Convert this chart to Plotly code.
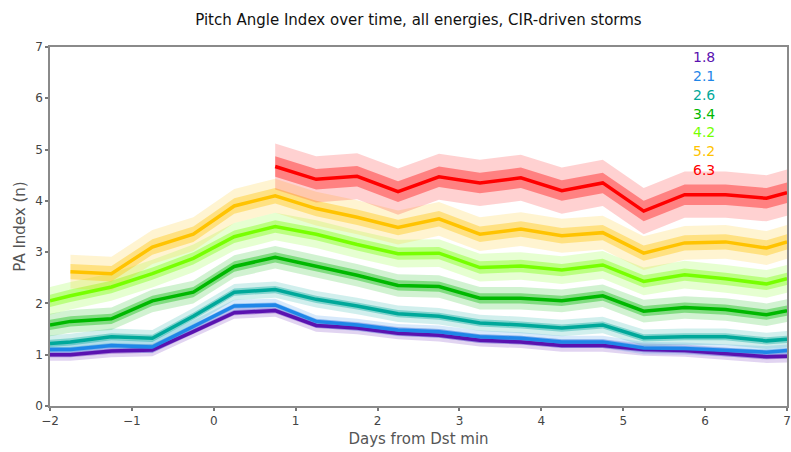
import plotly.graph_objects as go

days = [-2, -1.75, -1.25, -0.75, -0.25, 0.25, 0.75, 1.25, 1.75, 2.25, 2.75,
        3.25, 3.75, 4.25, 4.75, 5.25, 5.75, 6.25, 6.75, 7]

energies = ["1.8", "2.1", "2.6", "3.4", "4.2", "5.2", "6.3"]

pa_18 = [1.00, 1.00, 1.07, 1.09, 1.45, 1.82, 1.86, 1.57, 1.52, 1.42, 1.38,
         1.28, 1.25, 1.18, 1.18, 1.10, 1.08, 1.02, 0.96, 0.97]
pa_21 = [1.10, 1.10, 1.18, 1.15, 1.55, 1.95, 1.97, 1.65, 1.58, 1.48, 1.45,
         1.35, 1.32, 1.25, 1.25, 1.13, 1.12, 1.08, 1.05, 1.08]
pa_26 = [1.22, 1.25, 1.35, 1.32, 1.75, 2.22, 2.27, 2.08, 1.95, 1.80, 1.75,
         1.62, 1.58, 1.52, 1.58, 1.33, 1.35, 1.35, 1.27, 1.30]
pa_34 = [1.58, 1.65, 1.70, 2.05, 2.22, 2.72, 2.90, 2.72, 2.55, 2.35, 2.33,
         2.10, 2.10, 2.05, 2.15, 1.85, 1.92, 1.88, 1.78, 1.86]
pa_42 = [2.05, 2.15, 2.32, 2.58, 2.88, 3.30, 3.50, 3.35, 3.15, 2.97, 2.98,
         2.70, 2.73, 2.65, 2.75, 2.43, 2.56, 2.48, 2.38, 2.48]
pa_52 = [None, 2.62, 2.58, 3.10, 3.35, 3.90, 4.10, 3.85, 3.68, 3.48, 3.65,
         3.35, 3.45, 3.32, 3.38, 2.98, 3.18, 3.20, 3.08, 3.20]
pa_63 = [None, None, None, None, None, None, 4.67, 4.42, 4.48, 4.18, 4.47,
         4.35, 4.45, 4.20, 4.35, 3.80, 4.12, 4.12, 4.05, 4.16]

# half-widths of inner and outer uncertainty bands per energy
band_inner = [0.05, 0.05, 0.07, 0.10, 0.12, 0.15, 0.20]
band_outer = [0.12, 0.12, 0.16, 0.22, 0.27, 0.33, 0.45]

series = [pa_18, pa_21, pa_26, pa_34, pa_42, pa_52, pa_63]
colors = ["#5a12b0", "#1f86e8", "#00a89a", "#00b800", "#77ff00", "#ffc300", "#ff0000"]


def rgba(hexc, a):
    h = hexc.lstrip("#")
    r, g, b = int(h[0:2], 16), int(h[2:4], 16), int(h[4:6], 16)
    return f"rgba({r},{g},{b},{a})"


fig = go.Figure()

for vals, col, wi, wo in zip(series, colors, band_inner, band_outer):
    xs = [d for d, v in zip(days, vals) if v is not None]
    ys = [v for v in vals if v is not None]
    for w, a in ((wo, 0.18), (wi, 0.38)):
        up = [y + w for y in ys]
        lo = [y - w for y in ys]
        fig.add_trace(go.Scatter(
            x=xs + xs[::-1], y=up + lo[::-1], fill="toself",
            fillcolor=rgba(col, a), line=dict(width=0), mode="lines",
            hoverinfo="skip", showlegend=False))

for vals, col in zip(series, colors):
    xs = [d for d, v in zip(days, vals) if v is not None]
    ys = [v for v in vals if v is not None]
    fig.add_trace(go.Scatter(x=xs, y=ys, mode="lines",
                             line=dict(color=col, width=3.5),
                             showlegend=False))

for i, (lab, col) in enumerate(zip(energies, colors)):
    fig.add_annotation(x=0.887, y=0.972 - i * 0.0525, xref="paper", yref="paper",
                       xanchor="center", yanchor="middle",
                       text=lab, showarrow=False,
                       font=dict(color=col, size=14, family="DejaVu Sans"))

axis_common = dict(showgrid=False, zeroline=False, showline=True, automargin=False,
                   linecolor="#8a8a8a", linewidth=1.5, mirror=True,
                   ticks="outside", ticklen=3, tickwidth=2, tickcolor="#777",
                   tickfont=dict(size=12, color="#444", family="DejaVu Sans"))

fig.update_layout(
    width=791, height=452,
    margin=dict(l=50, r=4, t=47, b=46),
    paper_bgcolor="white", plot_bgcolor="white",
    title=dict(text="Pitch Angle Index over time, all energies, CIR-driven storms",
               x=0.529, xanchor="center", y=0.956, yanchor="middle",
               font=dict(size=15, color="#111", family="DejaVu Sans")),
    xaxis=dict(range=[-2, 7], dtick=1,
               title=dict(text="Days from Dst min", standoff=6,
                          font=dict(size=15, color="#555", family="DejaVu Sans")),
               **axis_common),
    yaxis=dict(range=[0, 7], dtick=1,
               title=dict(text="PA Index (n)", standoff=6,
                          font=dict(size=15, color="#555", family="DejaVu Sans")),
               **axis_common),
)

fig.write_html("out.html")
